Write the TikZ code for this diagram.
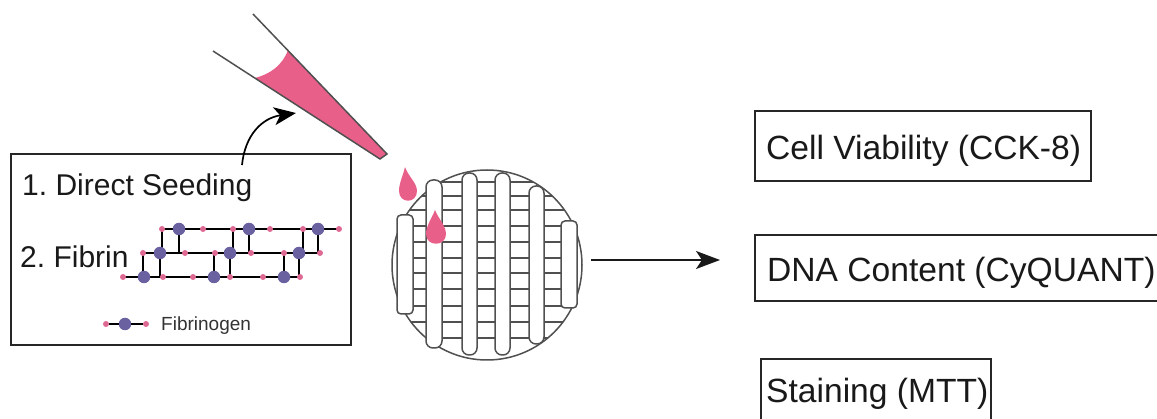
\documentclass[tikz,border=0pt]{standalone}
\usepackage{fontspec}
\setmainfont{Liberation Sans}
\usetikzlibrary{arrows.meta}
\definecolor{rosefill}{HTML}{E85F8A}
\definecolor{pinkdot}{HTML}{DE6A94}
\definecolor{bluedot}{HTML}{6A62A0}
\definecolor{scaffoldline}{HTML}{505050}
\tikzset{
  x=1pt,y=-1pt,
  framebox/.style={draw=black!85,line width=1.6pt},
  boxtext/.style={font=\fontsize{30}{32}\selectfont,text=black!90,inner sep=0pt,anchor=base west},
  assaytext/.style={font=\fontsize{33.6}{36}\selectfont,text=black!90,inner sep=0pt,anchor=base west},
  strut/.style={draw=scaffoldline,line width=1.5pt,fill=white,rounded corners=7pt},
  endstrut/.style={strut,rounded corners=4pt},
  strand/.style={draw=black,line width=1.5pt},
  pinkbead/.style={circle,fill=pinkdot,inner sep=0pt,minimum size=6pt},
  bluebead/.style={circle,fill=bluedot,inner sep=0pt,minimum size=12.5pt},
  flow/.style={draw=black!90,line width=1.7pt,-{Stealth[length=24pt,width=18pt,inset=6pt]}},
  bendflow/.style={draw=black,line width=1.7pt,-{Stealth[length=22pt,width=18pt,inset=6pt]}},
  droplet/.style={fill=rosefill}
}
\begin{document}
\frenchspacing
\begin{tikzpicture}
\useasboundingbox (0,0) rectangle (1157,419);

% pipette tip with its liquid column
\fill[rosefill] (255,78) .. controls (270,74) and (282,66) .. (288,50) -- (387,154) -- (380,159) -- cycle;
\draw[scaffoldline,line width=1.5pt] (213,51) -- (380,159) -- (387,154) -- (253,14);

% seeding box
\node[framebox,minimum width=340pt,minimum height=191pt,inner sep=0pt] (seedbox) at (181,249.5) {};
\node[boxtext] (direct) at (22,196) {1. Direct Seeding};
\node[boxtext] (fibrin) at (20,268) {2. Fibrin};
\coordinate (curvestart) at (242,165);
\coordinate (curveend) at (296,113);
\draw[bendflow] (curvestart) .. controls (245,135) and (262,118) .. (curveend);

% fibrin network: horizontal strands
\foreach \xa/\xb/\yy in {162/339/229,143/320/253,123/300/277}
  \draw[strand] (\xa,\yy) -- (\xb,\yy);
% fibrin network: cross links
\foreach \xx in {162,179,233,249,303,318}
  \draw[strand] (\xx,229) -- (\xx,253);
\foreach \xx in {143,160,214,230,284,299}
  \draw[strand] (\xx,253) -- (\xx,277);
% fibrin network: beads
\foreach \xx in {162,203,233,270,303,339}
  \node[pinkbead] at (\xx,229) {};
\foreach \xx in {143,185,215,251,284,320}
  \node[pinkbead] at (\xx,253) {};
\foreach \xx in {123,163,193,230,263,300}
  \node[pinkbead] at (\xx,277) {};
\foreach \xx in {179,249,318}
  \node[bluebead] at (\xx,229) {};
\foreach \xx in {160,230,299}
  \node[bluebead] at (\xx,253) {};
\foreach \xx in {144,214,284}
  \node[bluebead] at (\xx,277) {};

% legend entry
\node[pinkbead] (legl) at (106,324) {};
\node[bluebead] (legm) at (125,324) {};
\node[pinkbead] (legr) at (146,324) {};
\draw[strand] (legl) -- (legm);
\draw[strand] (legm) -- (legr);
\node[inner sep=0pt,anchor=base west,font=\fontsize{19}{20}\selectfont,text=black!80] (fibrinogen) at (161,331) {Fibrinogen};

% scaffold disc
\draw[scaffoldline,line width=1.5pt] (487,265) circle [radius=95];
\begin{scope}
  \clip (487,265) circle [radius=95];
  \foreach \yy in {182,196,210,226,242,258,273,289,306,322,338}
    \draw[scaffoldline,line width=1.3pt] (405,\yy) -- (570,\yy);
\end{scope}
\foreach \xa/\xb/\ya/\yb in {426/442/180/348,462/477/173/355,495/510/173/355,529/544/186/344}
  \draw[strut] (\xa,\ya) rectangle (\xb,\yb);
\foreach \xa/\xb/\ya/\yb in {397/413/215/314,561/577/221/308}
  \draw[endstrut] (\xa,\ya) rectangle (\xb,\yb);

% droplets falling on the disc
\fill[droplet] (405,167) .. controls (408,176) and (417,183) .. (417,191) .. controls (417,204) and (399,204) .. (399,191) .. controls (399,183) and (403,176) .. (405,167) -- cycle;
\fill[droplet] (435,210) .. controls (438,218) and (446,226) .. (446,234) .. controls (446,247) and (426,247) .. (426,234) .. controls (426,226) and (432,218) .. (435,210) -- cycle;

% flow towards the assays
\coordinate (flowstart) at (591,260);
\coordinate (flowend) at (720,260);
\draw[flow] (flowstart) -- (flowend);

% assay boxes
\draw[framebox] (755,111) rectangle (1091,181);
\node[assaytext] (cck) at (766,160) {Cell Viability (CCK-8)};
\draw[framebox] (755,235) rectangle (1160,301);
\node[assaytext] (dna) at (767,282) {DNA Content (CyQUANT)};
\draw[framebox] (761,421) -- (761,359) -- (991,359) -- (991,421);
\node[assaytext] (mtt) at (766,403) {Staining (MTT)};
\end{tikzpicture}
\end{document}
